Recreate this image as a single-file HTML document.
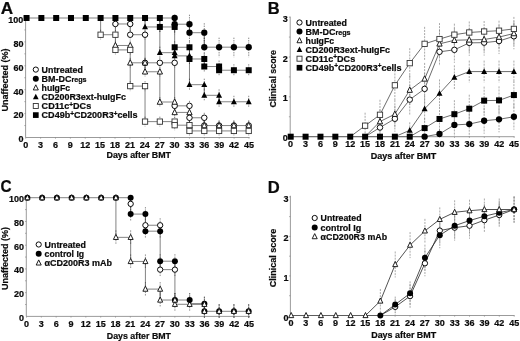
<!DOCTYPE html>
<html lang="en">
<head>
<meta charset="utf-8">
<title>Figure</title>
<style>
html,body{margin:0;padding:0;background:#fff;}
body{width:520px;height:341px;overflow:hidden;}
svg{display:block;}
text{white-space:pre;stroke:#111;stroke-width:0.22px;}
</style>
</head>
<body>
<svg width="520" height="341" viewBox="0 0 520 341" font-family='"Liberation Sans", Arial, Helvetica, sans-serif' fill="#0a0a0a" stroke="#0a0a0a" stroke-width="0">
<defs><filter id="soft" x="0" y="0" width="520" height="341" filterUnits="userSpaceOnUse" color-interpolation-filters="sRGB"><feGaussianBlur stdDeviation="0.3"/></filter></defs>
<rect width="520" height="341" fill="#fff"/>
<g filter="url(#soft)">
<rect width="520" height="341" fill="#fff"/>
<g id="panelA">
<path d="M25.60 17.50V137.50H249.60" fill="none" stroke="#7a7a7a" stroke-width="0.75"/>
<path d="M25.70 137.50v1.2M40.59 137.50v1.2M55.47 137.50v1.2M70.36 137.50v1.2M85.24 137.50v1.2M100.13 137.50v1.2M115.02 137.50v1.2M129.90 137.50v1.2M144.79 137.50v1.2M159.67 137.50v1.2M174.56 137.50v1.2M189.45 137.50v1.2M204.33 137.50v1.2M219.22 137.50v1.2M234.10 137.50v1.2M248.99 137.50v1.2M25.60 125.55h-1.3M25.60 113.60h-1.3M25.60 101.65h-1.3M25.60 89.70h-1.3M25.60 77.75h-1.3M25.60 65.80h-1.3M25.60 53.85h-1.3M25.60 41.90h-1.3M25.60 29.95h-1.3M25.60 18.00h-1.3" stroke="#7a7a7a" stroke-width="0.6" fill="none"/>
<text x="23.40" y="23.40" font-size="9" text-anchor="end" font-weight="bold">100</text>
<text x="23.40" y="47.12" font-size="9" text-anchor="end" font-weight="bold">80</text>
<text x="23.40" y="70.84" font-size="9" text-anchor="end" font-weight="bold">60</text>
<text x="23.40" y="94.56" font-size="9" text-anchor="end" font-weight="bold">40</text>
<text x="23.40" y="118.28" font-size="9" text-anchor="end" font-weight="bold">20</text>
<text x="23.40" y="142.00" font-size="9" text-anchor="end" font-weight="bold">0</text>
<text x="25.70" y="148.10" font-size="9" text-anchor="middle" font-weight="bold">0</text>
<text x="40.59" y="148.10" font-size="9" text-anchor="middle" font-weight="bold">3</text>
<text x="55.47" y="148.10" font-size="9" text-anchor="middle" font-weight="bold">6</text>
<text x="70.36" y="148.10" font-size="9" text-anchor="middle" font-weight="bold">9</text>
<text x="85.24" y="148.10" font-size="9" text-anchor="middle" font-weight="bold">12</text>
<text x="100.13" y="148.10" font-size="9" text-anchor="middle" font-weight="bold">15</text>
<text x="115.02" y="148.10" font-size="9" text-anchor="middle" font-weight="bold">18</text>
<text x="129.90" y="148.10" font-size="9" text-anchor="middle" font-weight="bold">21</text>
<text x="144.79" y="148.10" font-size="9" text-anchor="middle" font-weight="bold">24</text>
<text x="159.67" y="148.10" font-size="9" text-anchor="middle" font-weight="bold">27</text>
<text x="174.56" y="148.10" font-size="9" text-anchor="middle" font-weight="bold">30</text>
<text x="189.45" y="148.10" font-size="9" text-anchor="middle" font-weight="bold">33</text>
<text x="204.33" y="148.10" font-size="9" text-anchor="middle" font-weight="bold">36</text>
<text x="219.22" y="148.10" font-size="9" text-anchor="middle" font-weight="bold">39</text>
<text x="234.10" y="148.10" font-size="9" text-anchor="middle" font-weight="bold">42</text>
<text x="248.99" y="148.10" font-size="9" text-anchor="middle" font-weight="bold">45</text>
<path d="M115.42 18.97V28.97M130.23 18.97V28.97M130.23 29.73V39.73M145.04 29.73V39.73M145.04 57.81V67.81M159.85 57.81V67.81M174.66 57.81V67.81M174.66 100.83V110.83M189.47 100.83V110.83M189.47 112.78V122.78M204.28 112.78V122.78M204.28 120.55V130.55M219.09 120.55V130.55M233.90 120.55V130.55M248.72 120.55V130.55" stroke="#5a5a5a" stroke-width="0.7" stroke-dasharray="1.4 1.0" fill="none"/>
<path d="M115.42 40.48V50.48M130.23 40.48V50.48M130.23 57.81V67.81M145.04 57.81V67.81M145.04 66.77V76.77M159.85 66.77V76.77M159.85 97.01V107.01M174.66 97.01V107.01M174.66 107.41V117.41M189.47 107.41V117.41M189.47 120.55V130.55M204.28 120.55V130.55M219.09 120.55V130.55M233.90 120.55V130.55M248.72 120.55V130.55" stroke="#5a5a5a" stroke-width="0.7" stroke-dasharray="1.4 1.0" fill="none"/>
<path d="M100.61 29.73V39.73M115.42 29.73V39.73M115.42 44.91V54.91M130.23 44.91V54.91M130.23 81.11V91.11M145.04 81.11V91.11M145.04 116.61V126.61M159.85 116.61V126.61M174.66 116.61V126.61M174.66 120.19V130.19M189.47 120.19V130.19M189.47 125.93V135.93M204.28 125.93V135.93M219.09 125.93V135.93M233.90 125.93V135.93M248.72 125.93V135.93" stroke="#5a5a5a" stroke-width="0.7" stroke-dasharray="1.4 1.0" fill="none"/>
<path d="M174.66 14.71V34.21M189.47 14.71V34.21M189.47 23.20V42.70M204.28 23.20V42.70M204.28 37.66V57.16M219.09 37.66V57.16M233.90 37.66V57.16M248.72 37.66V57.16" stroke="#5a5a5a" stroke-width="0.7" stroke-dasharray="1.4 1.0" fill="none"/>
<path d="M145.04 20.96V32.96M159.85 20.96V32.96M159.85 46.66V58.66M174.66 46.66V58.66M174.66 49.88V61.88M189.47 49.88V61.88M189.47 78.68V90.68M204.28 78.68V90.68M204.28 89.32V101.32M219.09 89.32V101.32M219.09 95.77V107.77M233.90 95.77V107.77M248.72 95.77V107.77" stroke="#5a5a5a" stroke-width="0.7" stroke-dasharray="1.4 1.0" fill="none"/>
<path d="M159.85 20.96V32.96M174.66 20.96V32.96M174.66 41.28V53.28M189.47 41.28V53.28M189.47 52.99V64.99M204.28 52.99V64.99M204.28 60.52V72.52M219.09 60.52V72.52M219.09 64.22V76.22M233.90 64.22V76.22M248.72 64.22V76.22" stroke="#5a5a5a" stroke-width="0.7" stroke-dasharray="1.4 1.0" fill="none"/>
<path d="M26.55 18.00H174.66M115.42 23.97H130.23M100.61 34.73H115.42M130.23 34.73H145.04M130.23 62.81H174.66M174.66 105.83H189.47M189.47 117.78H204.28M189.47 125.55H248.72M115.42 45.48H130.23M145.04 71.77H159.85M159.85 102.01H174.66M174.66 112.41H189.47M115.42 49.91H130.23M130.23 86.11H145.04M145.04 121.61H174.66M174.66 125.19H189.47M189.47 130.93H248.72M145.04 26.96H174.66M159.85 52.66H174.66M174.66 55.88H189.47M189.47 84.68H204.28M204.28 95.32H219.09M219.09 101.77H248.72M174.66 47.28H189.47M189.47 58.99H204.28M204.28 66.52H219.09M219.09 70.22H248.72M174.66 24.21H189.47M189.47 32.70H204.28M204.28 47.16H248.72M115.42 18.00V49.91M130.23 23.97V34.73M130.23 45.48V86.11M145.04 18.00V26.96M145.04 34.73V71.77M145.04 86.11V121.61M174.66 18.00V24.21M174.66 26.96V47.28M174.66 52.66V55.88M174.66 62.81V112.41M174.66 121.61V125.19M189.47 24.21V32.70M189.47 47.28V84.68M189.47 105.83V130.93M204.28 32.70V47.16M204.28 58.99V66.52M204.28 84.68V95.32M204.28 117.78V125.55M159.85 18.00V52.66M159.85 71.77V102.01M100.61 18.00V34.73M219.09 66.52V70.22M219.09 95.32V101.77" fill="none" stroke="#1c1c1c" stroke-width="0.55"/>
<circle cx="115.42" cy="23.97" r="2.75" fill="#fff" stroke="#0a0a0a" stroke-width="1.0"/><circle cx="130.23" cy="23.97" r="2.75" fill="#fff" stroke="#0a0a0a" stroke-width="1.0"/><circle cx="130.23" cy="34.73" r="2.75" fill="#fff" stroke="#0a0a0a" stroke-width="1.0"/><circle cx="145.04" cy="34.73" r="2.75" fill="#fff" stroke="#0a0a0a" stroke-width="1.0"/><circle cx="145.04" cy="62.81" r="2.75" fill="#fff" stroke="#0a0a0a" stroke-width="1.0"/><circle cx="159.85" cy="62.81" r="2.75" fill="#fff" stroke="#0a0a0a" stroke-width="1.0"/><circle cx="174.66" cy="62.81" r="2.75" fill="#fff" stroke="#0a0a0a" stroke-width="1.0"/><circle cx="174.66" cy="105.83" r="2.75" fill="#fff" stroke="#0a0a0a" stroke-width="1.0"/><circle cx="189.47" cy="105.83" r="2.75" fill="#fff" stroke="#0a0a0a" stroke-width="1.0"/><circle cx="189.47" cy="117.78" r="2.75" fill="#fff" stroke="#0a0a0a" stroke-width="1.0"/><circle cx="204.28" cy="117.78" r="2.75" fill="#fff" stroke="#0a0a0a" stroke-width="1.0"/><circle cx="204.28" cy="125.55" r="2.75" fill="#fff" stroke="#0a0a0a" stroke-width="1.0"/><circle cx="219.09" cy="125.55" r="2.75" fill="#fff" stroke="#0a0a0a" stroke-width="1.0"/><circle cx="233.90" cy="125.55" r="2.75" fill="#fff" stroke="#0a0a0a" stroke-width="1.0"/><circle cx="248.72" cy="125.55" r="2.75" fill="#fff" stroke="#0a0a0a" stroke-width="1.0"/>
<circle cx="174.66" cy="18.00" r="3.15" fill="#000"/><circle cx="174.66" cy="24.21" r="3.15" fill="#000"/><circle cx="189.47" cy="24.21" r="3.15" fill="#000"/><circle cx="189.47" cy="32.70" r="3.15" fill="#000"/><circle cx="204.28" cy="32.70" r="3.15" fill="#000"/><circle cx="204.28" cy="47.16" r="3.15" fill="#000"/><circle cx="219.09" cy="47.16" r="3.15" fill="#000"/><circle cx="233.90" cy="47.16" r="3.15" fill="#000"/><circle cx="248.72" cy="47.16" r="3.15" fill="#000"/>
<path d="M115.42 42.34L118.07 47.73H112.77Z" fill="#fff" stroke="#141414" stroke-width="0.95" stroke-linejoin="miter"/><path d="M130.23 42.34L132.88 47.73H127.58Z" fill="#fff" stroke="#141414" stroke-width="0.95" stroke-linejoin="miter"/><path d="M130.23 59.66L132.88 65.06H127.58Z" fill="#fff" stroke="#141414" stroke-width="0.95" stroke-linejoin="miter"/><path d="M145.04 59.66L147.69 65.06H142.39Z" fill="#fff" stroke="#141414" stroke-width="0.95" stroke-linejoin="miter"/><path d="M145.04 68.62L147.69 74.02H142.39Z" fill="#fff" stroke="#141414" stroke-width="0.95" stroke-linejoin="miter"/><path d="M159.85 68.62L162.50 74.02H157.20Z" fill="#fff" stroke="#141414" stroke-width="0.95" stroke-linejoin="miter"/><path d="M159.85 98.86L162.50 104.26H157.20Z" fill="#fff" stroke="#141414" stroke-width="0.95" stroke-linejoin="miter"/><path d="M174.66 98.86L177.31 104.26H172.01Z" fill="#fff" stroke="#141414" stroke-width="0.95" stroke-linejoin="miter"/><path d="M174.66 109.25L177.31 114.66H172.01Z" fill="#fff" stroke="#141414" stroke-width="0.95" stroke-linejoin="miter"/><path d="M189.47 109.25L192.12 114.66H186.82Z" fill="#fff" stroke="#141414" stroke-width="0.95" stroke-linejoin="miter"/><path d="M189.47 122.40L192.12 127.80H186.82Z" fill="#fff" stroke="#141414" stroke-width="0.95" stroke-linejoin="miter"/><path d="M204.28 122.40L206.93 127.80H201.63Z" fill="#fff" stroke="#141414" stroke-width="0.95" stroke-linejoin="miter"/><path d="M219.09 122.40L221.74 127.80H216.44Z" fill="#fff" stroke="#141414" stroke-width="0.95" stroke-linejoin="miter"/><path d="M233.90 122.40L236.55 127.80H231.25Z" fill="#fff" stroke="#141414" stroke-width="0.95" stroke-linejoin="miter"/><path d="M248.72 122.40L251.37 127.80H246.07Z" fill="#fff" stroke="#141414" stroke-width="0.95" stroke-linejoin="miter"/>
<path d="M145.04 23.66L148.04 29.36H142.04Z" fill="#000"/><path d="M159.85 49.36L162.85 55.05H156.85Z" fill="#000"/><path d="M174.66 49.36L177.66 55.05H171.66Z" fill="#000"/><path d="M174.66 52.58L177.66 58.28H171.66Z" fill="#000"/><path d="M189.47 52.58L192.47 58.28H186.47Z" fill="#000"/><path d="M189.47 81.38L192.47 87.08H186.47Z" fill="#000"/><path d="M204.28 81.38L207.28 87.08H201.28Z" fill="#000"/><path d="M204.28 92.02L207.28 97.72H201.28Z" fill="#000"/><path d="M219.09 92.02L222.09 97.72H216.09Z" fill="#000"/><path d="M219.09 98.47L222.09 104.17H216.09Z" fill="#000"/><path d="M233.90 98.47L236.90 104.17H230.90Z" fill="#000"/><path d="M248.72 98.47L251.72 104.17H245.72Z" fill="#000"/>
<rect x="97.95" y="32.08" width="5.30" height="5.30" fill="#fff" stroke="#333" stroke-width="0.9"/><rect x="112.77" y="32.08" width="5.30" height="5.30" fill="#fff" stroke="#333" stroke-width="0.9"/><rect x="112.77" y="47.26" width="5.30" height="5.30" fill="#fff" stroke="#333" stroke-width="0.9"/><rect x="127.58" y="47.26" width="5.30" height="5.30" fill="#fff" stroke="#333" stroke-width="0.9"/><rect x="127.58" y="83.46" width="5.30" height="5.30" fill="#fff" stroke="#333" stroke-width="0.9"/><rect x="142.39" y="83.46" width="5.30" height="5.30" fill="#fff" stroke="#333" stroke-width="0.9"/><rect x="142.39" y="118.96" width="5.30" height="5.30" fill="#fff" stroke="#333" stroke-width="0.9"/><rect x="157.20" y="118.96" width="5.30" height="5.30" fill="#fff" stroke="#333" stroke-width="0.9"/><rect x="172.01" y="118.96" width="5.30" height="5.30" fill="#fff" stroke="#333" stroke-width="0.9"/><rect x="172.01" y="122.54" width="5.30" height="5.30" fill="#fff" stroke="#333" stroke-width="0.9"/><rect x="186.82" y="122.54" width="5.30" height="5.30" fill="#fff" stroke="#333" stroke-width="0.9"/><rect x="186.82" y="128.28" width="5.30" height="5.30" fill="#fff" stroke="#333" stroke-width="0.9"/><rect x="201.63" y="128.28" width="5.30" height="5.30" fill="#fff" stroke="#333" stroke-width="0.9"/><rect x="216.44" y="128.28" width="5.30" height="5.30" fill="#fff" stroke="#333" stroke-width="0.9"/><rect x="231.25" y="128.28" width="5.30" height="5.30" fill="#fff" stroke="#333" stroke-width="0.9"/><rect x="246.07" y="128.28" width="5.30" height="5.30" fill="#fff" stroke="#333" stroke-width="0.9"/>
<rect x="23.55" y="15.00" width="6.00" height="6.00" fill="#000"/><rect x="38.36" y="15.00" width="6.00" height="6.00" fill="#000"/><rect x="53.17" y="15.00" width="6.00" height="6.00" fill="#000"/><rect x="67.98" y="15.00" width="6.00" height="6.00" fill="#000"/><rect x="82.79" y="15.00" width="6.00" height="6.00" fill="#000"/><rect x="97.61" y="15.00" width="6.00" height="6.00" fill="#000"/><rect x="112.42" y="15.00" width="6.00" height="6.00" fill="#000"/><rect x="127.23" y="15.00" width="6.00" height="6.00" fill="#000"/><rect x="142.04" y="15.00" width="6.00" height="6.00" fill="#000"/><rect x="156.85" y="15.00" width="6.00" height="6.00" fill="#000"/><rect x="156.85" y="23.96" width="6.00" height="6.00" fill="#000"/><rect x="171.66" y="23.96" width="6.00" height="6.00" fill="#000"/><rect x="171.66" y="44.28" width="6.00" height="6.00" fill="#000"/><rect x="186.47" y="44.28" width="6.00" height="6.00" fill="#000"/><rect x="186.47" y="55.99" width="6.00" height="6.00" fill="#000"/><rect x="201.28" y="55.99" width="6.00" height="6.00" fill="#000"/><rect x="201.28" y="63.52" width="6.00" height="6.00" fill="#000"/><rect x="216.09" y="63.52" width="6.00" height="6.00" fill="#000"/><rect x="216.09" y="67.22" width="6.00" height="6.00" fill="#000"/><rect x="230.90" y="67.22" width="6.00" height="6.00" fill="#000"/><rect x="245.72" y="67.22" width="6.00" height="6.00" fill="#000"/>
<circle cx="35.80" cy="69.60" r="2.61" fill="#fff" stroke="#0a0a0a" stroke-width="1.0"/>
<text x="41.60" y="72.70" font-size="9" textLength="41.3" lengthAdjust="spacingAndGlyphs" font-weight="bold">Untreated</text>
<circle cx="35.80" cy="78.70" r="2.99" fill="#000"/>
<text x="41.60" y="81.80" font-size="9" textLength="45.0" lengthAdjust="spacingAndGlyphs" font-weight="bold">BM-DC<tspan font-size="7.2">regs</tspan></text>
<path d="M35.80 84.81L38.32 89.94H33.28Z" fill="#fff" stroke="#141414" stroke-width="0.95" stroke-linejoin="miter"/>
<text x="41.60" y="90.90" font-size="9" textLength="28.4" lengthAdjust="spacingAndGlyphs" font-weight="bold">huIgFc</text>
<path d="M35.80 93.77L38.65 99.18H32.95Z" fill="#000"/>
<text x="41.60" y="100.00" font-size="9" textLength="84.4" lengthAdjust="spacingAndGlyphs" font-weight="bold">CD200R3ext-huIgFc</text>
<rect x="33.28" y="103.48" width="5.03" height="5.03" fill="#fff" stroke="#333" stroke-width="0.9"/>
<text x="41.60" y="109.10" font-size="9" textLength="49.6" lengthAdjust="spacingAndGlyphs" font-weight="bold">CD11c<tspan font-size="6.5" dy="-2.6">+</tspan><tspan dy="2.6">DCs</tspan></text>
<rect x="32.95" y="112.25" width="5.70" height="5.70" fill="#000"/>
<text x="41.60" y="118.20" font-size="9" textLength="96.0" lengthAdjust="spacingAndGlyphs" font-weight="bold">CD49b<tspan font-size="6.5" dy="-2.6">+</tspan><tspan dy="2.6">CD200R3</tspan><tspan font-size="6.5" dy="-2.6">+</tspan><tspan dy="2.6">cells</tspan></text>
<text x="0.70" y="13.60" font-size="15.8" textLength="12.4" lengthAdjust="spacingAndGlyphs" font-weight="bold">A</text>
<text x="138.80" y="158.20" font-size="9" text-anchor="middle" textLength="64.5" lengthAdjust="spacingAndGlyphs" font-weight="bold">Days after BMT</text>
<text x="8.10" y="80.00" font-size="9" text-anchor="middle" textLength="63.0" lengthAdjust="spacingAndGlyphs" transform="rotate(-90 8.10 80.00)" font-weight="bold">Unaffected (%)</text>
</g>
<g id="panelB">
<path d="M290.20 16.60V136.70H514.60" fill="none" stroke="#7a7a7a" stroke-width="0.75"/>
<path d="M290.60 136.70v1.2M305.50 136.70v1.2M320.40 136.70v1.2M335.30 136.70v1.2M350.20 136.70v1.2M365.11 136.70v1.2M380.01 136.70v1.2M394.91 136.70v1.2M409.81 136.70v1.2M424.71 136.70v1.2M439.61 136.70v1.2M454.51 136.70v1.2M469.41 136.70v1.2M484.31 136.70v1.2M499.21 136.70v1.2M514.12 136.70v1.2M290.20 116.77h-1.3M290.20 96.85h-1.3M290.20 76.92h-1.3M290.20 57.00h-1.3M290.20 37.07h-1.3M290.20 17.15h-1.3" stroke="#7a7a7a" stroke-width="0.6" fill="none"/>
<text x="287.80" y="22.41" font-size="9" text-anchor="end" font-weight="bold">3</text>
<text x="287.80" y="61.94" font-size="9" text-anchor="end" font-weight="bold">2</text>
<text x="287.80" y="101.47" font-size="9" text-anchor="end" font-weight="bold">1</text>
<text x="287.80" y="141.00" font-size="9" text-anchor="end" font-weight="bold">0</text>
<text x="290.60" y="147.40" font-size="9" text-anchor="middle" font-weight="bold">0</text>
<text x="305.50" y="147.40" font-size="9" text-anchor="middle" font-weight="bold">3</text>
<text x="320.40" y="147.40" font-size="9" text-anchor="middle" font-weight="bold">6</text>
<text x="335.30" y="147.40" font-size="9" text-anchor="middle" font-weight="bold">9</text>
<text x="350.20" y="147.40" font-size="9" text-anchor="middle" font-weight="bold">12</text>
<text x="365.11" y="147.40" font-size="9" text-anchor="middle" font-weight="bold">15</text>
<text x="380.01" y="147.40" font-size="9" text-anchor="middle" font-weight="bold">18</text>
<text x="394.91" y="147.40" font-size="9" text-anchor="middle" font-weight="bold">21</text>
<text x="409.81" y="147.40" font-size="9" text-anchor="middle" font-weight="bold">24</text>
<text x="424.71" y="147.40" font-size="9" text-anchor="middle" font-weight="bold">27</text>
<text x="439.61" y="147.40" font-size="9" text-anchor="middle" font-weight="bold">30</text>
<text x="454.51" y="147.40" font-size="9" text-anchor="middle" font-weight="bold">33</text>
<text x="469.41" y="147.40" font-size="9" text-anchor="middle" font-weight="bold">36</text>
<text x="484.31" y="147.40" font-size="9" text-anchor="middle" font-weight="bold">39</text>
<text x="499.21" y="147.40" font-size="9" text-anchor="middle" font-weight="bold">42</text>
<text x="514.12" y="147.40" font-size="9" text-anchor="middle" font-weight="bold">45</text>
<path d="M365.10 112.70V136.70M379.98 99.78V129.78M394.86 70.29V100.29M409.74 48.18V78.18M424.62 26.85V60.85M439.50 23.07V55.07M454.38 23.68V45.68M469.26 21.49V43.49M484.14 21.00V42.00M499.02 20.70V40.70M513.90 16.91V40.91" stroke="#858585" stroke-width="0.7" stroke-dasharray="2.0 1.1" fill="none"/>
<path d="M379.98 109.56V133.56M394.86 100.18V128.18M409.74 75.08V105.08M424.62 62.92V94.92M439.50 29.85V57.85M454.38 28.26V52.26M469.26 27.86V51.86M484.14 27.47V51.47M499.02 25.07V49.07M513.90 21.49V45.49" stroke="#858585" stroke-width="0.7" stroke-dasharray="2.0 1.1" fill="none"/>
<path d="M379.98 117.53V136.70M394.86 105.77V131.77M409.74 84.64V114.64M424.62 72.88V104.88M439.50 37.82V65.82M454.38 36.83V62.83M469.26 29.85V55.85M484.14 29.65V55.65M499.02 28.06V54.06M513.90 23.28V49.28" stroke="#858585" stroke-width="0.7" stroke-dasharray="2.0 1.1" fill="none"/>
<path d="M409.74 122.32V136.70M424.62 95.80V121.80M439.50 79.46V107.46M454.38 65.32V89.32M469.26 60.59V82.59M484.14 60.59V82.59M499.02 60.59V82.59M513.90 60.59V82.59" stroke="#858585" stroke-width="0.7" stroke-dasharray="2.0 1.1" fill="none"/>
<path d="M424.62 118.09V136.70M439.50 106.97V130.97M454.38 100.18V128.18M469.26 94.69V122.69M484.14 86.64V114.64M499.02 86.36V114.36M513.90 81.06V109.06" stroke="#858585" stroke-width="0.7" stroke-dasharray="2.0 1.1" fill="none"/>
<path d="M439.50 128.91V136.70M454.38 113.94V135.94M469.26 111.11V136.70M484.14 107.76V133.76M499.02 106.29V132.29M513.90 103.77V129.77" stroke="#858585" stroke-width="0.7" stroke-dasharray="2.0 1.1" fill="none"/>
<path d="M290.70 136.70L424.62 136.70" fill="none" stroke="#1c1c1c" stroke-width="0.5" stroke-linejoin="round"/>
<path d="M365.10 136.70L379.98 127.53L394.86 118.77L409.74 99.64L424.62 88.88L439.50 51.82L454.38 49.83L469.26 42.85L484.14 42.65L499.02 41.06L513.90 36.28" fill="none" stroke="#262626" stroke-width="0.68" stroke-linejoin="round"/>
<path d="M365.10 136.70L379.98 121.56L394.86 114.18L409.74 90.08L424.62 78.92L439.50 43.85L454.38 40.26L469.26 39.86L484.14 39.47L499.02 37.07L513.90 33.49" fill="none" stroke="#262626" stroke-width="0.68" stroke-linejoin="round"/>
<path d="M350.22 136.70L365.10 125.70L379.98 114.78L394.86 85.29L409.74 63.18L424.62 43.85L439.50 39.07L454.38 34.68L469.26 32.49L484.14 31.50L499.02 30.70L513.90 28.91" fill="none" stroke="#262626" stroke-width="0.68" stroke-linejoin="round"/>
<path d="M394.86 136.70L409.74 130.32L424.62 108.80L439.50 93.46L454.38 77.32L469.26 71.59L484.14 71.59L499.02 71.59L513.90 71.59" fill="none" stroke="#262626" stroke-width="0.68" stroke-linejoin="round"/>
<path d="M409.74 136.70L424.62 128.09L439.50 118.97L454.38 114.18L469.26 108.69L484.14 100.64L499.02 100.36L513.90 95.06" fill="none" stroke="#262626" stroke-width="0.68" stroke-linejoin="round"/>
<path d="M424.62 136.70L439.50 133.91L454.38 124.94L469.26 124.11L484.14 120.76L499.02 119.29L513.90 116.77" fill="none" stroke="#262626" stroke-width="0.68" stroke-linejoin="round"/>
<circle cx="379.98" cy="127.53" r="2.75" fill="#fff" stroke="#0a0a0a" stroke-width="1.0"/><circle cx="394.86" cy="118.77" r="2.75" fill="#fff" stroke="#0a0a0a" stroke-width="1.0"/><circle cx="409.74" cy="99.64" r="2.75" fill="#fff" stroke="#0a0a0a" stroke-width="1.0"/><circle cx="424.62" cy="88.88" r="2.75" fill="#fff" stroke="#0a0a0a" stroke-width="1.0"/><circle cx="439.50" cy="51.82" r="2.75" fill="#fff" stroke="#0a0a0a" stroke-width="1.0"/><circle cx="454.38" cy="49.83" r="2.75" fill="#fff" stroke="#0a0a0a" stroke-width="1.0"/><circle cx="469.26" cy="42.85" r="2.75" fill="#fff" stroke="#0a0a0a" stroke-width="1.0"/><circle cx="484.14" cy="42.65" r="2.75" fill="#fff" stroke="#0a0a0a" stroke-width="1.0"/><circle cx="499.02" cy="41.06" r="2.75" fill="#fff" stroke="#0a0a0a" stroke-width="1.0"/><circle cx="513.90" cy="36.28" r="2.75" fill="#fff" stroke="#0a0a0a" stroke-width="1.0"/>
<circle cx="424.62" cy="136.70" r="3.15" fill="#000"/><circle cx="439.50" cy="133.91" r="3.15" fill="#000"/><circle cx="454.38" cy="124.94" r="3.15" fill="#000"/><circle cx="469.26" cy="124.11" r="3.15" fill="#000"/><circle cx="484.14" cy="120.76" r="3.15" fill="#000"/><circle cx="499.02" cy="119.29" r="3.15" fill="#000"/><circle cx="513.90" cy="116.77" r="3.15" fill="#000"/>
<path d="M379.98 118.41L382.63 123.81H377.33Z" fill="#fff" stroke="#141414" stroke-width="0.95" stroke-linejoin="miter"/><path d="M394.86 111.03L397.51 116.43H392.21Z" fill="#fff" stroke="#141414" stroke-width="0.95" stroke-linejoin="miter"/><path d="M409.74 86.93L412.39 92.33H407.09Z" fill="#fff" stroke="#141414" stroke-width="0.95" stroke-linejoin="miter"/><path d="M424.62 75.77L427.27 81.17H421.97Z" fill="#fff" stroke="#141414" stroke-width="0.95" stroke-linejoin="miter"/><path d="M439.50 40.70L442.15 46.10H436.85Z" fill="#fff" stroke="#141414" stroke-width="0.95" stroke-linejoin="miter"/><path d="M454.38 37.11L457.03 42.51H451.73Z" fill="#fff" stroke="#141414" stroke-width="0.95" stroke-linejoin="miter"/><path d="M469.26 36.71L471.91 42.11H466.61Z" fill="#fff" stroke="#141414" stroke-width="0.95" stroke-linejoin="miter"/><path d="M484.14 36.32L486.79 41.72H481.49Z" fill="#fff" stroke="#141414" stroke-width="0.95" stroke-linejoin="miter"/><path d="M499.02 33.92L501.67 39.32H496.37Z" fill="#fff" stroke="#141414" stroke-width="0.95" stroke-linejoin="miter"/><path d="M513.90 30.34L516.55 35.74H511.25Z" fill="#fff" stroke="#141414" stroke-width="0.95" stroke-linejoin="miter"/>
<path d="M409.74 127.02L412.74 132.72H406.74Z" fill="#000"/><path d="M424.62 105.50L427.62 111.20H421.62Z" fill="#000"/><path d="M439.50 90.16L442.50 95.86H436.50Z" fill="#000"/><path d="M454.38 74.02L457.38 79.72H451.38Z" fill="#000"/><path d="M469.26 68.29L472.26 73.99H466.26Z" fill="#000"/><path d="M484.14 68.29L487.14 73.99H481.14Z" fill="#000"/><path d="M499.02 68.29L502.02 73.99H496.02Z" fill="#000"/><path d="M513.90 68.29L516.90 73.99H510.90Z" fill="#000"/>
<rect x="362.45" y="123.05" width="5.30" height="5.30" fill="#fff" stroke="#333" stroke-width="0.9"/><rect x="377.33" y="112.13" width="5.30" height="5.30" fill="#fff" stroke="#333" stroke-width="0.9"/><rect x="392.21" y="82.64" width="5.30" height="5.30" fill="#fff" stroke="#333" stroke-width="0.9"/><rect x="407.09" y="60.53" width="5.30" height="5.30" fill="#fff" stroke="#333" stroke-width="0.9"/><rect x="421.97" y="41.20" width="5.30" height="5.30" fill="#fff" stroke="#333" stroke-width="0.9"/><rect x="436.85" y="36.42" width="5.30" height="5.30" fill="#fff" stroke="#333" stroke-width="0.9"/><rect x="451.73" y="32.03" width="5.30" height="5.30" fill="#fff" stroke="#333" stroke-width="0.9"/><rect x="466.61" y="29.84" width="5.30" height="5.30" fill="#fff" stroke="#333" stroke-width="0.9"/><rect x="481.49" y="28.85" width="5.30" height="5.30" fill="#fff" stroke="#333" stroke-width="0.9"/><rect x="496.37" y="28.05" width="5.30" height="5.30" fill="#fff" stroke="#333" stroke-width="0.9"/><rect x="511.25" y="26.26" width="5.30" height="5.30" fill="#fff" stroke="#333" stroke-width="0.9"/>
<rect x="287.70" y="133.70" width="6.00" height="6.00" fill="#000"/><rect x="302.58" y="133.70" width="6.00" height="6.00" fill="#000"/><rect x="317.46" y="133.70" width="6.00" height="6.00" fill="#000"/><rect x="332.34" y="133.70" width="6.00" height="6.00" fill="#000"/><rect x="347.22" y="133.70" width="6.00" height="6.00" fill="#000"/><rect x="362.10" y="133.70" width="6.00" height="6.00" fill="#000"/><rect x="376.98" y="133.70" width="6.00" height="6.00" fill="#000"/><rect x="391.86" y="133.70" width="6.00" height="6.00" fill="#000"/><rect x="406.74" y="133.70" width="6.00" height="6.00" fill="#000"/><rect x="421.62" y="125.09" width="6.00" height="6.00" fill="#000"/><rect x="436.50" y="115.97" width="6.00" height="6.00" fill="#000"/><rect x="451.38" y="111.18" width="6.00" height="6.00" fill="#000"/><rect x="466.26" y="105.69" width="6.00" height="6.00" fill="#000"/><rect x="481.14" y="97.64" width="6.00" height="6.00" fill="#000"/><rect x="496.02" y="97.36" width="6.00" height="6.00" fill="#000"/><rect x="510.90" y="92.06" width="6.00" height="6.00" fill="#000"/>
<circle cx="299.50" cy="22.50" r="2.61" fill="#fff" stroke="#0a0a0a" stroke-width="1.0"/>
<text x="305.60" y="25.60" font-size="9" textLength="41.3" lengthAdjust="spacingAndGlyphs" font-weight="bold">Untreated</text>
<circle cx="299.50" cy="31.55" r="2.99" fill="#000"/>
<text x="305.60" y="34.65" font-size="9" textLength="45.0" lengthAdjust="spacingAndGlyphs" font-weight="bold">BM-DC<tspan font-size="7.2">regs</tspan></text>
<path d="M299.50 37.61L302.02 42.74H296.98Z" fill="#fff" stroke="#141414" stroke-width="0.95" stroke-linejoin="miter"/>
<text x="305.60" y="43.70" font-size="9" textLength="28.4" lengthAdjust="spacingAndGlyphs" font-weight="bold">huIgFc</text>
<path d="M299.50 46.52L302.35 51.93H296.65Z" fill="#000"/>
<text x="305.60" y="52.75" font-size="9" textLength="84.4" lengthAdjust="spacingAndGlyphs" font-weight="bold">CD200R3ext-huIgFc</text>
<rect x="296.98" y="56.18" width="5.03" height="5.03" fill="#fff" stroke="#333" stroke-width="0.9"/>
<text x="305.60" y="61.80" font-size="9" textLength="49.6" lengthAdjust="spacingAndGlyphs" font-weight="bold">CD11c<tspan font-size="6.5" dy="-2.6">+</tspan><tspan dy="2.6">DCs</tspan></text>
<rect x="296.65" y="64.90" width="5.70" height="5.70" fill="#000"/>
<text x="305.60" y="70.85" font-size="9" textLength="96.0" lengthAdjust="spacingAndGlyphs" font-weight="bold">CD49b<tspan font-size="6.5" dy="-2.6">+</tspan><tspan dy="2.6">CD200R3</tspan><tspan font-size="6.5" dy="-2.6">+</tspan><tspan dy="2.6">cells</tspan></text>
<text x="267.80" y="13.60" font-size="15.8" textLength="11.9" lengthAdjust="spacingAndGlyphs" font-weight="bold">B</text>
<text x="403.50" y="159.10" font-size="9" text-anchor="middle" textLength="65.4" lengthAdjust="spacingAndGlyphs" font-weight="bold">Days after BMT</text>
<text x="275.90" y="78.80" font-size="9" text-anchor="middle" textLength="57.5" lengthAdjust="spacingAndGlyphs" transform="rotate(-90 275.90 78.80)" font-weight="bold">Clinical score</text>
</g>
<g id="panelC">
<path d="M26.30 196.50V316.40H250.00" fill="none" stroke="#7a7a7a" stroke-width="0.75"/>
<path d="M26.50 316.40v1.2M41.34 316.40v1.2M56.17 316.40v1.2M71.00 316.40v1.2M85.84 316.40v1.2M100.68 316.40v1.2M115.51 316.40v1.2M130.34 316.40v1.2M145.18 316.40v1.2M160.02 316.40v1.2M174.85 316.40v1.2M189.69 316.40v1.2M204.52 316.40v1.2M219.36 316.40v1.2M234.19 316.40v1.2M249.03 316.40v1.2M26.30 304.53h-1.3M26.30 292.66h-1.3M26.30 280.79h-1.3M26.30 268.92h-1.3M26.30 257.05h-1.3M26.30 245.18h-1.3M26.30 233.31h-1.3M26.30 221.44h-1.3M26.30 209.57h-1.3M26.30 197.70h-1.3" stroke="#7a7a7a" stroke-width="0.6" fill="none"/>
<text x="24.00" y="201.70" font-size="9" text-anchor="end" font-weight="bold">100</text>
<text x="24.00" y="225.62" font-size="9" text-anchor="end" font-weight="bold">80</text>
<text x="24.00" y="249.54" font-size="9" text-anchor="end" font-weight="bold">60</text>
<text x="24.00" y="273.46" font-size="9" text-anchor="end" font-weight="bold">40</text>
<text x="24.00" y="297.38" font-size="9" text-anchor="end" font-weight="bold">20</text>
<text x="24.00" y="321.30" font-size="9" text-anchor="end" font-weight="bold">0</text>
<text x="26.50" y="327.20" font-size="9" text-anchor="middle" font-weight="bold">0</text>
<text x="41.34" y="327.20" font-size="9" text-anchor="middle" font-weight="bold">3</text>
<text x="56.17" y="327.20" font-size="9" text-anchor="middle" font-weight="bold">6</text>
<text x="71.00" y="327.20" font-size="9" text-anchor="middle" font-weight="bold">9</text>
<text x="85.84" y="327.20" font-size="9" text-anchor="middle" font-weight="bold">12</text>
<text x="100.68" y="327.20" font-size="9" text-anchor="middle" font-weight="bold">15</text>
<text x="115.51" y="327.20" font-size="9" text-anchor="middle" font-weight="bold">18</text>
<text x="130.34" y="327.20" font-size="9" text-anchor="middle" font-weight="bold">21</text>
<text x="145.18" y="327.20" font-size="9" text-anchor="middle" font-weight="bold">24</text>
<text x="160.02" y="327.20" font-size="9" text-anchor="middle" font-weight="bold">27</text>
<text x="174.85" y="327.20" font-size="9" text-anchor="middle" font-weight="bold">30</text>
<text x="189.69" y="327.20" font-size="9" text-anchor="middle" font-weight="bold">33</text>
<text x="204.52" y="327.20" font-size="9" text-anchor="middle" font-weight="bold">36</text>
<text x="219.36" y="327.20" font-size="9" text-anchor="middle" font-weight="bold">39</text>
<text x="234.19" y="327.20" font-size="9" text-anchor="middle" font-weight="bold">42</text>
<text x="249.03" y="327.20" font-size="9" text-anchor="middle" font-weight="bold">45</text>
<path d="M130.66 196.87V210.87M145.41 218.24V232.24M160.16 218.24V232.24M160.16 262.63V276.63M174.91 262.63V276.63M174.91 293.02V307.02M189.66 293.02V307.02M204.41 296.70V310.70M204.41 304.30V318.30M219.16 304.30V318.30M233.91 304.30V318.30M248.66 304.30V318.30" stroke="#5a5a5a" stroke-width="0.7" stroke-dasharray="1.4 1.0" fill="none"/>
<path d="M130.66 207.08V221.08M145.41 207.08V221.08M145.41 224.17V238.17M160.16 224.17V238.17M160.16 254.20V268.20M174.91 254.20V268.20M174.91 293.02V307.02M189.66 293.02V307.02M204.41 296.70V310.70M204.41 304.30V318.30M219.16 304.30V318.30M233.91 304.30V318.30M248.66 304.30V318.30" stroke="#5a5a5a" stroke-width="0.7" stroke-dasharray="1.4 1.0" fill="none"/>
<path d="M115.91 230.35V244.35M130.66 230.35V244.35M130.66 254.44V268.44M145.41 254.44V268.44M145.41 282.10V296.10M160.16 282.10V296.10M160.16 293.02V307.02M174.91 293.02V307.02M174.91 297.29V311.29M189.66 297.29V311.29M204.41 297.29V311.29M204.41 304.30V318.30M219.16 304.30V318.30M233.91 304.30V318.30M248.66 304.30V318.30" stroke="#5a5a5a" stroke-width="0.7" stroke-dasharray="1.4 1.0" fill="none"/>
<path d="M27.40 197.70H130.66M145.41 225.24H160.16M160.16 269.63H174.91M160.16 300.02H189.66M189.66 303.70H204.41M204.41 311.30H248.66M130.66 214.08H145.41M145.41 231.17H160.16M160.16 261.20H174.91M115.91 237.35H130.66M130.66 261.44H145.41M145.41 289.10H160.16M174.91 304.29H204.41M130.66 197.70V214.08M130.66 237.35V261.44M160.16 225.24V269.63M160.16 289.10V300.02M174.91 261.20V304.29M189.66 300.02V303.70M204.41 303.70V311.30M145.41 214.08V231.17M145.41 261.44V289.10M115.91 197.70V237.35" fill="none" stroke="#1c1c1c" stroke-width="0.55"/>
<path d="M174.91 301.30L177.43 306.43H172.39Z" fill="#fff" stroke="#141414" stroke-width="0.95" stroke-linejoin="miter"/><path d="M189.66 301.30L192.18 306.43H187.14Z" fill="#fff" stroke="#141414" stroke-width="0.95" stroke-linejoin="miter"/>
<circle cx="130.66" cy="203.87" r="2.67" fill="#fff" stroke="#0a0a0a" stroke-width="1.0"/><circle cx="145.41" cy="225.24" r="2.67" fill="#fff" stroke="#0a0a0a" stroke-width="1.0"/><circle cx="160.16" cy="225.24" r="2.67" fill="#fff" stroke="#0a0a0a" stroke-width="1.0"/><circle cx="160.16" cy="269.63" r="2.67" fill="#fff" stroke="#0a0a0a" stroke-width="1.0"/><circle cx="174.91" cy="269.63" r="2.67" fill="#fff" stroke="#0a0a0a" stroke-width="1.0"/>
<circle cx="27.40" cy="197.70" r="2.99" fill="#000"/><circle cx="42.15" cy="197.70" r="2.99" fill="#000"/><circle cx="56.90" cy="197.70" r="2.99" fill="#000"/><circle cx="71.65" cy="197.70" r="2.99" fill="#000"/><circle cx="86.40" cy="197.70" r="2.99" fill="#000"/><circle cx="101.16" cy="197.70" r="2.99" fill="#000"/><circle cx="115.91" cy="197.70" r="2.99" fill="#000"/><circle cx="130.66" cy="197.70" r="2.99" fill="#000"/><circle cx="130.66" cy="214.08" r="2.99" fill="#000"/><circle cx="145.41" cy="214.08" r="2.99" fill="#000"/><circle cx="145.41" cy="231.17" r="2.99" fill="#000"/><circle cx="160.16" cy="231.17" r="2.99" fill="#000"/><circle cx="160.16" cy="261.20" r="2.99" fill="#000"/><circle cx="174.91" cy="261.20" r="2.99" fill="#000"/><circle cx="174.91" cy="300.02" r="2.99" fill="#000"/><circle cx="189.66" cy="300.02" r="2.99" fill="#000"/><circle cx="204.41" cy="303.70" r="2.99" fill="#000"/><circle cx="204.41" cy="311.30" r="2.99" fill="#000"/><circle cx="219.16" cy="311.30" r="2.99" fill="#000"/><circle cx="233.91" cy="311.30" r="2.99" fill="#000"/><circle cx="248.66" cy="311.30" r="2.99" fill="#000"/>
<path d="M27.40 194.71L29.92 199.84H24.88Z" fill="#fff" stroke="#141414" stroke-width="0.95" stroke-linejoin="miter"/><path d="M42.15 194.71L44.67 199.84H39.63Z" fill="#fff" stroke="#141414" stroke-width="0.95" stroke-linejoin="miter"/><path d="M56.90 194.71L59.42 199.84H54.38Z" fill="#fff" stroke="#141414" stroke-width="0.95" stroke-linejoin="miter"/><path d="M71.65 194.71L74.17 199.84H69.14Z" fill="#fff" stroke="#141414" stroke-width="0.95" stroke-linejoin="miter"/><path d="M86.40 194.71L88.92 199.84H83.89Z" fill="#fff" stroke="#141414" stroke-width="0.95" stroke-linejoin="miter"/><path d="M101.16 194.71L103.67 199.84H98.64Z" fill="#fff" stroke="#141414" stroke-width="0.95" stroke-linejoin="miter"/><path d="M115.91 194.71L118.42 199.84H113.39Z" fill="#fff" stroke="#141414" stroke-width="0.95" stroke-linejoin="miter"/><path d="M115.91 234.35L118.42 239.48H113.39Z" fill="#fff" stroke="#141414" stroke-width="0.95" stroke-linejoin="miter"/><path d="M130.66 234.35L133.17 239.48H128.14Z" fill="#fff" stroke="#141414" stroke-width="0.95" stroke-linejoin="miter"/><path d="M130.66 258.45L133.17 263.58H128.14Z" fill="#fff" stroke="#141414" stroke-width="0.95" stroke-linejoin="miter"/><path d="M145.41 258.45L147.93 263.58H142.89Z" fill="#fff" stroke="#141414" stroke-width="0.95" stroke-linejoin="miter"/><path d="M145.41 286.11L147.93 291.24H142.89Z" fill="#fff" stroke="#141414" stroke-width="0.95" stroke-linejoin="miter"/><path d="M160.16 286.11L162.68 291.24H157.64Z" fill="#fff" stroke="#141414" stroke-width="0.95" stroke-linejoin="miter"/><path d="M160.16 297.03L162.68 302.16H157.64Z" fill="#fff" stroke="#141414" stroke-width="0.95" stroke-linejoin="miter"/><path d="M174.91 297.03L177.43 302.16H172.39Z" fill="#fff" stroke="#141414" stroke-width="0.95" stroke-linejoin="miter"/><path d="M204.41 301.30L206.93 306.43H201.89Z" fill="#fff" stroke="#141414" stroke-width="0.95" stroke-linejoin="miter"/><path d="M204.41 308.30L206.93 313.43H201.89Z" fill="#fff" stroke="#141414" stroke-width="0.95" stroke-linejoin="miter"/><path d="M219.16 308.30L221.68 313.43H216.65Z" fill="#fff" stroke="#141414" stroke-width="0.95" stroke-linejoin="miter"/><path d="M233.91 308.30L236.43 313.43H231.40Z" fill="#fff" stroke="#141414" stroke-width="0.95" stroke-linejoin="miter"/><path d="M248.66 308.30L251.18 313.43H246.15Z" fill="#fff" stroke="#141414" stroke-width="0.95" stroke-linejoin="miter"/>
<circle cx="38.70" cy="244.50" r="2.61" fill="#fff" stroke="#0a0a0a" stroke-width="1.0"/>
<text x="44.60" y="247.60" font-size="9" textLength="41.3" lengthAdjust="spacingAndGlyphs" font-weight="bold">Untreated</text>
<circle cx="38.70" cy="253.70" r="2.99" fill="#000"/>
<text x="44.60" y="256.80" font-size="9" textLength="39.5" lengthAdjust="spacingAndGlyphs" font-weight="bold">control Ig</text>
<path d="M38.70 259.91L41.22 265.04H36.18Z" fill="#fff" stroke="#141414" stroke-width="0.95" stroke-linejoin="miter"/>
<text x="44.60" y="266.00" font-size="9" textLength="67.4" lengthAdjust="spacingAndGlyphs" font-weight="bold">αCD200R3 mAb</text>
<text x="0.50" y="191.70" font-size="15.8" textLength="11.1" lengthAdjust="spacingAndGlyphs" font-weight="bold">C</text>
<text x="138.90" y="338.70" font-size="9" text-anchor="middle" textLength="64.2" lengthAdjust="spacingAndGlyphs" font-weight="bold">Days after BMT</text>
<text x="8.30" y="258.40" font-size="9" text-anchor="middle" textLength="63.0" lengthAdjust="spacingAndGlyphs" transform="rotate(-90 8.30 258.40)" font-weight="bold">Unaffected (%)</text>
</g>
<g id="panelD">
<path d="M290.40 195.80V315.50H514.60" fill="none" stroke="#7a7a7a" stroke-width="0.75"/>
<path d="M290.90 315.50v1.2M305.79 315.50v1.2M320.67 315.50v1.2M335.56 315.50v1.2M350.44 315.50v1.2M365.33 315.50v1.2M380.22 315.50v1.2M395.10 315.50v1.2M409.99 315.50v1.2M424.87 315.50v1.2M439.76 315.50v1.2M454.65 315.50v1.2M469.53 315.50v1.2M484.42 315.50v1.2M499.30 315.50v1.2M514.19 315.50v1.2M290.40 295.73h-1.3M290.40 275.95h-1.3M290.40 256.18h-1.3M290.40 236.40h-1.3M290.40 216.62h-1.3M290.40 196.85h-1.3" stroke="#7a7a7a" stroke-width="0.6" fill="none"/>
<text x="288.40" y="201.85" font-size="9" text-anchor="end" font-weight="bold">3</text>
<text x="288.40" y="241.40" font-size="9" text-anchor="end" font-weight="bold">2</text>
<text x="288.40" y="280.95" font-size="9" text-anchor="end" font-weight="bold">1</text>
<text x="288.40" y="320.50" font-size="9" text-anchor="end" font-weight="bold">0</text>
<text x="290.90" y="325.90" font-size="9" text-anchor="middle" font-weight="bold">0</text>
<text x="305.79" y="325.90" font-size="9" text-anchor="middle" font-weight="bold">3</text>
<text x="320.67" y="325.90" font-size="9" text-anchor="middle" font-weight="bold">6</text>
<text x="335.56" y="325.90" font-size="9" text-anchor="middle" font-weight="bold">9</text>
<text x="350.44" y="325.90" font-size="9" text-anchor="middle" font-weight="bold">12</text>
<text x="365.33" y="325.90" font-size="9" text-anchor="middle" font-weight="bold">15</text>
<text x="380.22" y="325.90" font-size="9" text-anchor="middle" font-weight="bold">18</text>
<text x="395.10" y="325.90" font-size="9" text-anchor="middle" font-weight="bold">21</text>
<text x="409.99" y="325.90" font-size="9" text-anchor="middle" font-weight="bold">24</text>
<text x="424.87" y="325.90" font-size="9" text-anchor="middle" font-weight="bold">27</text>
<text x="439.76" y="325.90" font-size="9" text-anchor="middle" font-weight="bold">30</text>
<text x="454.65" y="325.90" font-size="9" text-anchor="middle" font-weight="bold">33</text>
<text x="469.53" y="325.90" font-size="9" text-anchor="middle" font-weight="bold">36</text>
<text x="484.42" y="325.90" font-size="9" text-anchor="middle" font-weight="bold">39</text>
<text x="499.30" y="325.90" font-size="9" text-anchor="middle" font-weight="bold">42</text>
<text x="514.19" y="325.90" font-size="9" text-anchor="middle" font-weight="bold">45</text>
<path d="M380.35 288.99V312.99M395.21 251.48V277.48M410.07 232.10V258.10M424.93 218.86V242.86M439.79 207.39V231.39M454.65 200.27V224.27M469.51 199.69V221.69M484.37 198.51V220.51M499.23 198.51V220.51M514.09 196.51V222.51" stroke="#858585" stroke-width="0.7" stroke-dasharray="2.0 1.1" fill="none"/>
<path d="M395.21 298.88V314.88M410.07 284.12V308.12M424.93 250.29V276.29M439.79 217.59V243.59M454.65 214.70V240.70M469.51 212.72V238.72M484.37 208.18V232.18M499.23 203.04V227.04M514.09 196.51V222.51" stroke="#858585" stroke-width="0.7" stroke-dasharray="2.0 1.1" fill="none"/>
<path d="M395.21 296.58V312.58M410.07 281.35V305.35M424.93 244.64V270.64M439.79 222.21V248.21M454.65 212.72V238.72M469.51 207.58V233.58M484.37 204.23V228.23M499.23 200.67V224.67M514.09 196.51V222.51" stroke="#858585" stroke-width="0.7" stroke-dasharray="2.0 1.1" fill="none"/>
<path d="M291.20 315.50L380.35 315.50" fill="none" stroke="#1c1c1c" stroke-width="0.5" stroke-linejoin="round"/>
<path d="M380.35 315.50L395.21 306.88L410.07 296.12L424.93 263.29L439.79 230.59L454.65 227.70L469.51 225.72L484.37 220.18L499.23 215.04L514.09 209.51" fill="none" stroke="#262626" stroke-width="0.8" stroke-linejoin="round"/>
<path d="M380.35 315.50L395.21 304.58L410.07 293.35L424.93 257.64L439.79 235.21L454.65 225.72L469.51 220.58L484.37 216.23L499.23 212.67L514.09 209.51" fill="none" stroke="#262626" stroke-width="0.8" stroke-linejoin="round"/>
<path d="M365.50 315.50L380.35 300.99L395.21 264.48L410.07 245.10L424.93 230.86L439.79 219.39L454.65 212.27L469.51 210.69L484.37 209.51L499.23 209.51L514.09 209.51" fill="none" stroke="#262626" stroke-width="0.8" stroke-linejoin="round"/>
<circle cx="395.21" cy="306.88" r="2.67" fill="#fff" stroke="#0a0a0a" stroke-width="1.0"/><circle cx="410.07" cy="296.12" r="2.67" fill="#fff" stroke="#0a0a0a" stroke-width="1.0"/><circle cx="424.93" cy="263.29" r="2.67" fill="#fff" stroke="#0a0a0a" stroke-width="1.0"/><circle cx="439.79" cy="230.59" r="2.67" fill="#fff" stroke="#0a0a0a" stroke-width="1.0"/><circle cx="454.65" cy="227.70" r="2.67" fill="#fff" stroke="#0a0a0a" stroke-width="1.0"/><circle cx="469.51" cy="225.72" r="2.67" fill="#fff" stroke="#0a0a0a" stroke-width="1.0"/><circle cx="484.37" cy="220.18" r="2.67" fill="#fff" stroke="#0a0a0a" stroke-width="1.0"/><circle cx="499.23" cy="215.04" r="2.67" fill="#fff" stroke="#0a0a0a" stroke-width="1.0"/><circle cx="514.09" cy="209.51" r="2.67" fill="#fff" stroke="#0a0a0a" stroke-width="1.0"/>
<circle cx="380.35" cy="315.50" r="2.99" fill="#000"/><circle cx="395.21" cy="304.58" r="2.99" fill="#000"/><circle cx="410.07" cy="293.35" r="2.99" fill="#000"/><circle cx="424.93" cy="257.64" r="2.99" fill="#000"/><circle cx="439.79" cy="235.21" r="2.99" fill="#000"/><circle cx="454.65" cy="225.72" r="2.99" fill="#000"/><circle cx="469.51" cy="220.58" r="2.99" fill="#000"/><circle cx="484.37" cy="216.23" r="2.99" fill="#000"/><circle cx="499.23" cy="212.67" r="2.99" fill="#000"/><circle cx="514.09" cy="209.51" r="2.99" fill="#000"/>
<path d="M291.20 312.51L293.72 317.64H288.68Z" fill="#fff" stroke="#141414" stroke-width="0.95" stroke-linejoin="miter"/><path d="M306.06 312.51L308.58 317.64H303.54Z" fill="#fff" stroke="#141414" stroke-width="0.95" stroke-linejoin="miter"/><path d="M320.92 312.51L323.44 317.64H318.40Z" fill="#fff" stroke="#141414" stroke-width="0.95" stroke-linejoin="miter"/><path d="M335.78 312.51L338.29 317.64H333.26Z" fill="#fff" stroke="#141414" stroke-width="0.95" stroke-linejoin="miter"/><path d="M350.64 312.51L353.15 317.64H348.12Z" fill="#fff" stroke="#141414" stroke-width="0.95" stroke-linejoin="miter"/><path d="M365.50 312.51L368.01 317.64H362.98Z" fill="#fff" stroke="#141414" stroke-width="0.95" stroke-linejoin="miter"/><path d="M380.35 297.99L382.87 303.12H377.84Z" fill="#fff" stroke="#141414" stroke-width="0.95" stroke-linejoin="miter"/><path d="M395.21 261.49L397.73 266.62H392.70Z" fill="#fff" stroke="#141414" stroke-width="0.95" stroke-linejoin="miter"/><path d="M410.07 242.11L412.59 247.24H407.55Z" fill="#fff" stroke="#141414" stroke-width="0.95" stroke-linejoin="miter"/><path d="M424.93 227.87L427.45 233.00H422.41Z" fill="#fff" stroke="#141414" stroke-width="0.95" stroke-linejoin="miter"/><path d="M439.79 216.40L442.31 221.53H437.27Z" fill="#fff" stroke="#141414" stroke-width="0.95" stroke-linejoin="miter"/><path d="M454.65 209.28L457.17 214.41H452.13Z" fill="#fff" stroke="#141414" stroke-width="0.95" stroke-linejoin="miter"/><path d="M469.51 207.70L472.03 212.83H466.99Z" fill="#fff" stroke="#141414" stroke-width="0.95" stroke-linejoin="miter"/><path d="M484.37 206.51L486.88 211.64H481.85Z" fill="#fff" stroke="#141414" stroke-width="0.95" stroke-linejoin="miter"/><path d="M499.23 206.51L501.74 211.64H496.71Z" fill="#fff" stroke="#141414" stroke-width="0.95" stroke-linejoin="miter"/><path d="M514.09 206.51L516.60 211.64H511.57Z" fill="#fff" stroke="#141414" stroke-width="0.95" stroke-linejoin="miter"/>
<circle cx="314.70" cy="218.00" r="2.61" fill="#fff" stroke="#0a0a0a" stroke-width="1.0"/>
<text x="320.60" y="221.10" font-size="9" textLength="40.9" lengthAdjust="spacingAndGlyphs" font-weight="bold">Untreated</text>
<circle cx="314.70" cy="227.50" r="2.99" fill="#000"/>
<text x="320.60" y="230.60" font-size="9" textLength="40.6" lengthAdjust="spacingAndGlyphs" font-weight="bold">control Ig</text>
<path d="M314.70 233.61L317.22 238.74H312.18Z" fill="#fff" stroke="#141414" stroke-width="0.95" stroke-linejoin="miter"/>
<text x="320.60" y="239.70" font-size="9" textLength="66.5" lengthAdjust="spacingAndGlyphs" font-weight="bold">αCD200R3 mAb</text>
<text x="267.80" y="192.50" font-size="15.8" textLength="12.0" lengthAdjust="spacingAndGlyphs" font-weight="bold">D</text>
<text x="403.70" y="338.00" font-size="9" text-anchor="middle" textLength="65.0" lengthAdjust="spacingAndGlyphs" font-weight="bold">Days after BMT</text>
<text x="275.90" y="258.00" font-size="9" text-anchor="middle" textLength="58.5" lengthAdjust="spacingAndGlyphs" transform="rotate(-90 275.90 258.00)" font-weight="bold">Clinical score</text>
</g>
</g>
</svg>
</body>
</html>
